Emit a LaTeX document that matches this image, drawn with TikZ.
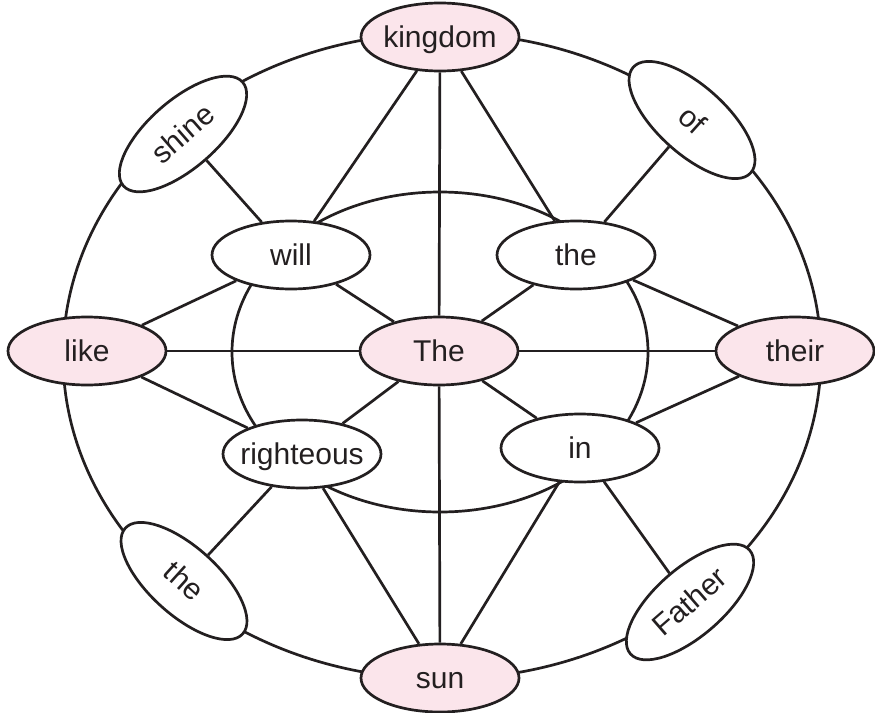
\documentclass[tikz,border=0pt]{standalone}
\usepackage{fontspec}
\setmainfont{Liberation Sans}
\usetikzlibrary{shapes.geometric}
\definecolor{ink}{HTML}{231F20}
\definecolor{rose}{HTML}{FBE5EB}
\begin{document}
\begin{tikzpicture}[x=1pt,y=-1pt,
  line width=2.7pt, draw=ink,
  word/.style={ellipse, draw=ink, fill=white, line width=2.7pt,
    minimum width=158pt, minimum height=68pt, inner sep=0pt,
    text height=22pt, text depth=2pt, text=ink,
    font=\fontsize{30}{35}\selectfont},
  key/.style={word, fill=rose},
  ring/.style={draw=ink, line width=2.7pt},
  spoke/.style={draw=ink, line width=2.7pt}]
\useasboundingbox (0,0) rectangle (875,712);
% rings
\draw[ring] (442,356) ellipse [x radius=379, y radius=323];
\draw[ring] (440,352) ellipse [x radius=208, y radius=160];
% nodes
\node[key]  (kingdom) at (440,37)  {\makebox[0pt]{kingdom}};
\node[key]  (The)     at (439,351) {\makebox[0pt]{The}};
\node[key]  (like)    at (87,351)  {\makebox[0pt]{like}};
\node[key]  (their)   at (795,351) {\makebox[0pt]{their}};
\node[key]  (sun)     at (440,678) {\makebox[0pt]{sun}};
\node[word] (will)    at (291,255) {\makebox[0pt]{will}};
\node[word] (theA)    at (576,255) {\makebox[0pt]{the}};
\node[word] (right)   at (302,454) {\makebox[0pt]{righteous}};
\node[word] (in)      at (580,448) {\makebox[0pt]{in}};
\node[word, rotate=41]  (shine)  at (183,134) {\makebox[0pt]{shine}};
\node[word, rotate=-42] (of)     at (692,120) {\makebox[0pt]{of}};
\node[word, rotate=-42] (theB)   at (184,581) {\makebox[0pt]{the}};
\node[word, rotate=41]  (Father) at (690,602) {\makebox[0pt]{Father}};
% spokes
\draw[spoke] (kingdom) -- (will);
\draw[spoke] (kingdom) -- (The);
\draw[spoke] (kingdom) -- (theA);
\draw[spoke] (shine) -- (will);
\draw[spoke] (of) -- (theA);
\draw[spoke] (like) -- (will);
\draw[spoke] (like) -- (The);
\draw[spoke] (like) -- (right);
\draw[spoke] (their) -- (theA);
\draw[spoke] (their) -- (The);
\draw[spoke] (their) -- (in);
\draw[spoke] (will) -- (The);
\draw[spoke] (theA) -- (The);
\draw[spoke] (right) -- (The);
\draw[spoke] (in) -- (The);
\draw[spoke] (theB) -- (right);
\draw[spoke] (Father) -- (in);
\draw[spoke] (sun) -- (right);
\draw[spoke] (sun) -- (The);
\draw[spoke] (sun) -- (in);
\end{tikzpicture}
\end{document}
